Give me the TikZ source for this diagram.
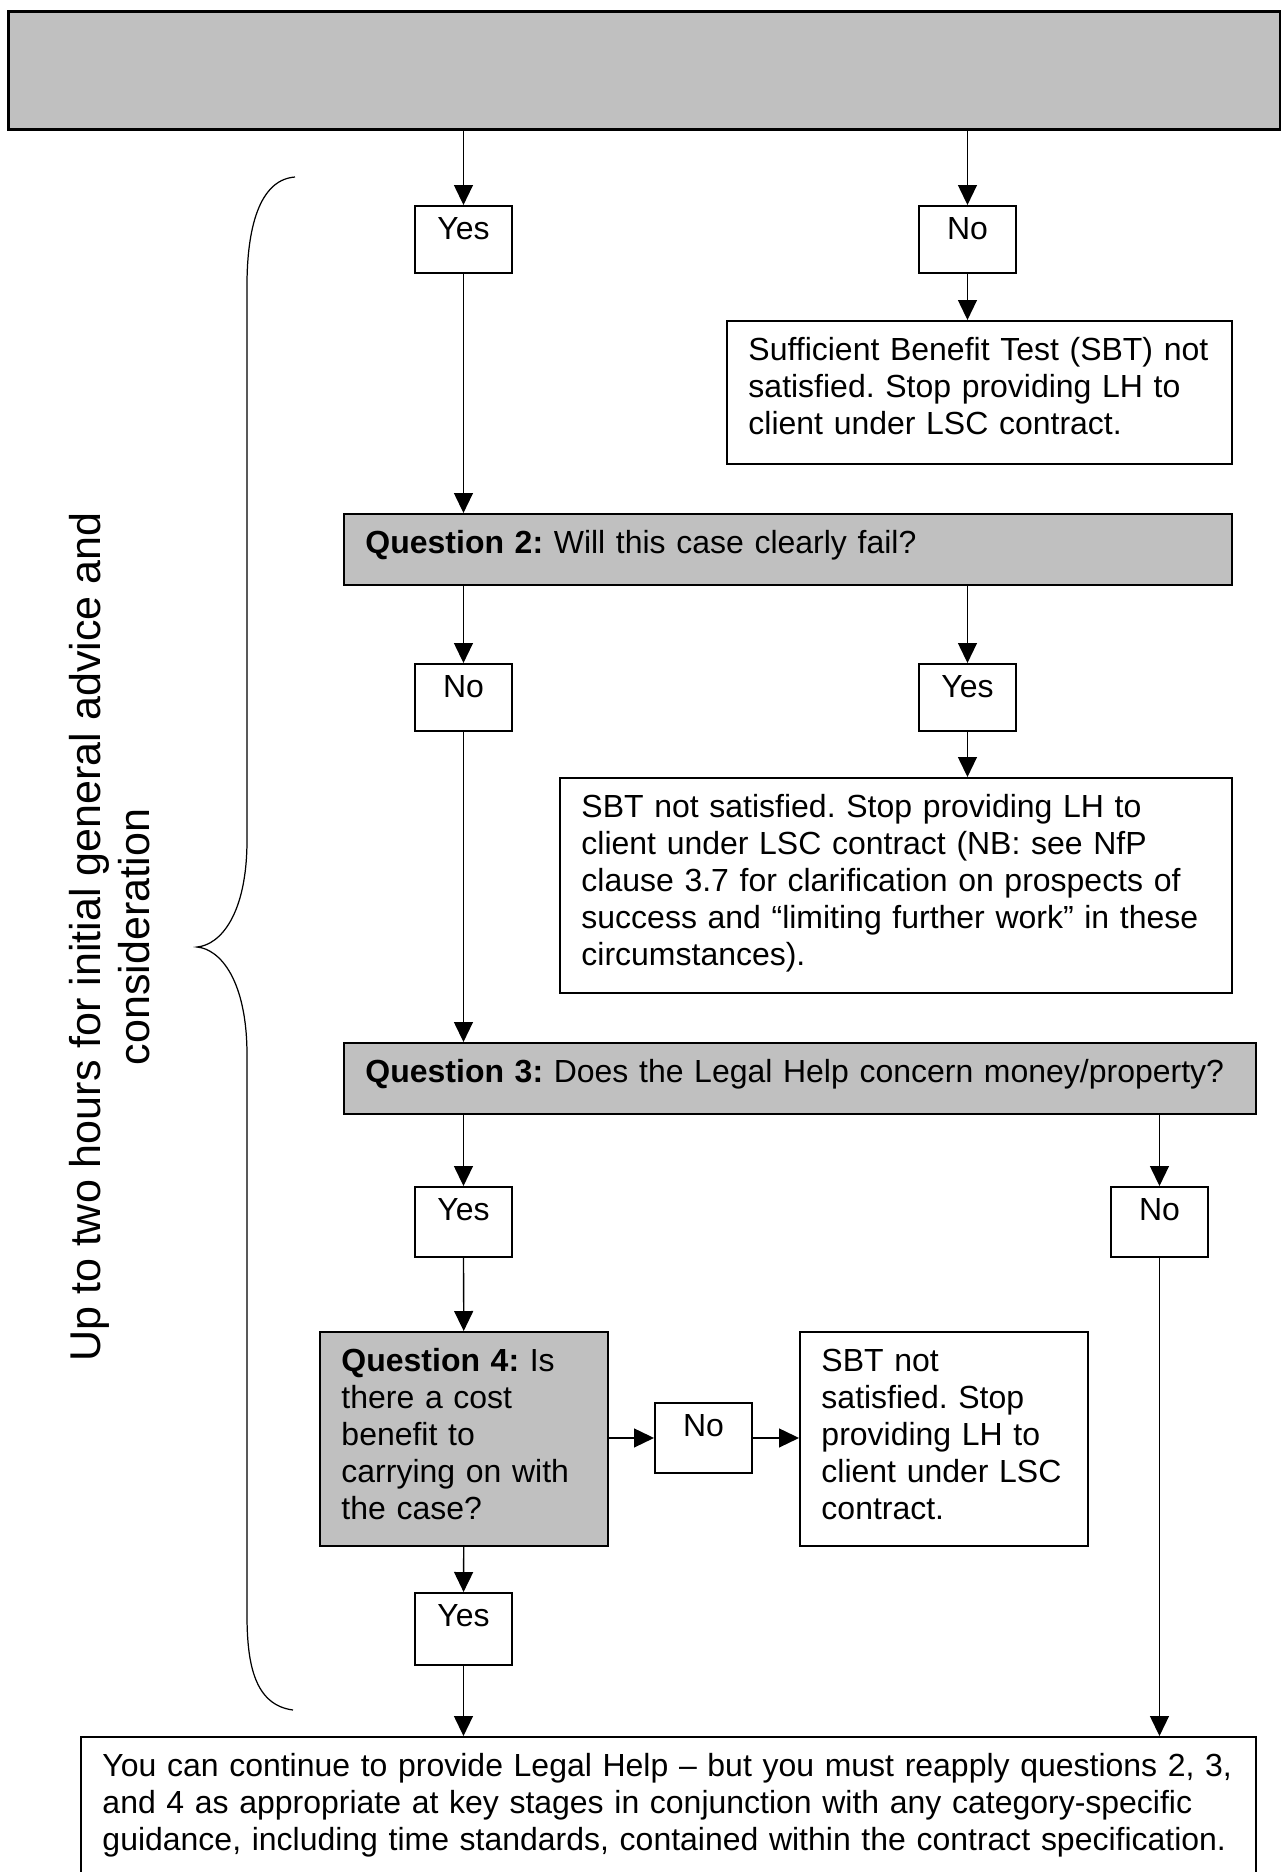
\documentclass[tikz,border=0pt]{standalone}
\usepackage{fontspec}
\setmainfont{Liberation Sans}
\frenchspacing
\usetikzlibrary{arrows.meta,positioning}
\definecolor{qgray}{RGB}{192,192,192}
\tikzstyle{answer}=[rectangle,draw=black,line width=1.1pt,inner sep=0pt,minimum width=1.94cm,text height=0.67cm,text depth=0.67cm,align=center,anchor=north west,font=\fontsize{18.2}{21}\selectfont]
\tikzstyle{outcome}=[rectangle,draw=black,line width=1.1pt,inner xsep=0.43cm,inner ysep=0pt,text height=0.8cm,align=left,anchor=north west,font=\fontsize{18.2}{21}\selectfont]
\tikzstyle{question}=[outcome,fill=qgray]
\tikzstyle{flow}=[-{Triangle[length=0.4cm,width=0.38cm]},line width=0.75pt]

\begin{document}
\begin{tikzpicture}
    \useasboundingbox (0,0) rectangle (25.6,-37.44);

    % Kasten
    \node[question,line width=1.6pt,minimum width=25.43cm,minimum height=2.36cm] (top) at (0.14,-0.2) {};
    \node[answer] (yes1) at (8.28,-4.1) {Yes};
    \node[answer] (no1) at (18.36,-4.1) {No};
    \node[outcome,text width=9.24cm,text depth=2.06cm] (sbt1) at (14.52,-6.4) {Sufficient Benefit Test (SBT) not\\ satisfied. Stop providing LH to\\ client under LSC contract.};
    \node[question,text width=16.9cm,text depth=0.62cm] (q2) at (6.86,-10.26) {\textbf{Question 2:} Will this case clearly fail?};
    \node[answer] (no2) at (8.28,-13.26) {No};
    \node[answer] (yes2) at (18.36,-13.26) {Yes};
    \node[outcome,text width=12.58cm,text depth=3.5cm] (sbt2) at (11.18,-15.54) {SBT not satisfied. Stop providing LH to\\ client under LSC contract (NB: see NfP\\ clause 3.7 for clarification on prospects of\\ success and “limiting further work” in these\\ circumstances).};
    \node[question,text width=17.38cm,text depth=0.62cm] (q3) at (6.86,-20.84) {\textbf{Question 3:} Does the Legal Help concern money/property?};
    \node[answer,text depth=0.73cm] (yes3) at (8.28,-23.72) {Yes};
    \node[answer,text depth=0.73cm] (no3) at (22.2,-23.72) {No};
    \node[question,text width=4.9cm,text depth=3.48cm] (q4) at (6.38,-26.62) {\textbf{Question 4:} Is\\ there a cost\\ benefit to\\ carrying on with\\ the case?};
    \node[answer,text depth=0.73cm] (no4) at (13.08,-28.04) {No};
    \node[outcome,text width=4.9cm,text depth=3.48cm] (sbt3) at (15.98,-26.62) {SBT not\\ satisfied. Stop\\ providing LH to\\ client under LSC\\ contract.};
    \node[answer,text depth=0.77cm] (yes4) at (8.28,-31.84) {Yes};
    \node[outcome,text width=22.64cm,text depth=3cm] (bottom) at (1.6,-34.72) {You can continue to provide Legal Help -- but you must reapply questions 2, 3,\\ and 4 as appropriate at key stages in conjunction with any category-specific\\ guidance, including time standards, contained within the contract specification.};

    % Klammer und Zeitangabe
    \draw[line width=0.7pt] (5.9,-3.54) .. controls (5.1,-3.6) and (4.94,-4.8) .. (4.94,-5.7)
        -- (4.94,-16.8) .. controls (4.94,-18.3) and (4.4,-18.9) .. (3.94,-18.94)
        .. controls (4.4,-18.98) and (4.94,-19.6) .. (4.94,-21.1)
        -- (4.94,-32.3) .. controls (4.94,-33.3) and (5.1,-34.1) .. (5.86,-34.2);
    \node[rotate=90,align=center,font=\fontsize{24.5}{27.8}\selectfont] (span) at (2.2,-18.74) {Up to two hours for initial general advice and\\ consideration};

    % Pfeile
    \draw[flow] (yes1 |- top.south) -- (yes1);
    \draw[flow] (no1 |- top.south) -- (no1);
    \draw[flow] (no1) -- (no1 |- sbt1.north);
    \draw[flow] (yes1) -- (yes1 |- q2.north);
    \draw[flow] (no2 |- q2.south) -- (no2);
    \draw[flow] (yes2 |- q2.south) -- (yes2);
    \draw[flow] (yes2) -- (yes2 |- sbt2.north);
    \draw[flow] (no2) -- (no2 |- q3.north);
    \draw[flow] (yes3 |- q3.south) -- (yes3);
    \draw[flow] (no3 |- q3.south) -- (no3);
    \draw[flow] (yes3) -- (q4);
    \draw[flow] (q4.east |- no4) -- (no4);
    \draw[flow] (no4) -- (no4 -| sbt3.west);
    \draw[flow] (q4) -- (yes4);
    \draw[flow] (yes4) -- (yes4 |- bottom.north);
    \draw[flow] (no3) -- (no3 |- bottom.north);

\end{tikzpicture}
\end{document}
